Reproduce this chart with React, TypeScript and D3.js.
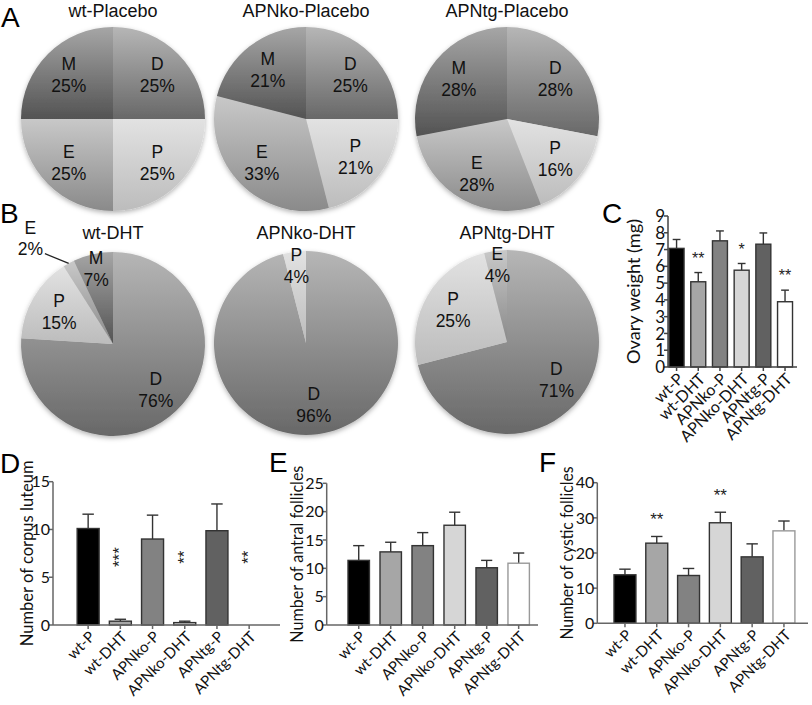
import React from "react";
import * as d3 from "d3";

// ---------- DATA ----------
const stages = ["D", "P", "E", "M"];
const placeboTitles = ["wt-Placebo", "APNko-Placebo", "APNtg-Placebo"];
const placeboPct = [
  [25, 25, 25, 25],
  [25, 21, 33, 21],
  [28, 16, 28, 28],
];
const dhtTitles = ["wt-DHT", "APNko-DHT", "APNtg-DHT"];
const dhtPct = [
  [76, 15, 2, 7],
  [96, 4, 0, 0],
  [71, 25, 4, 0],
];

const groups = ["wt-P", "wt-DHT", "APNko-P", "APNko-DHT", "APNtg-P", "APNtg-DHT"];
const barFills = ["#000000", "#a6a6a6", "#828282", "#d6d6d6", "#616161", "#ffffff"];

const ovaryMean = [7.07, 5.08, 7.52, 5.77, 7.32, 3.89];
const ovarySem = [0.53, 0.55, 0.59, 0.4, 0.67, 0.69];
const ovaryStars = ["", "**", "", "*", "", "**"];
const ovaryTicks = [0, 1, 2, 3, 4, 5, 6, 7, 8, 9];

const corpusMean = [10.1, 0.4, 9.0, 0.25, 9.87, 0];
const corpusSem = [1.5, 0.2, 2.5, 0.15, 2.8, 0];
const corpusStars = ["", "***", "", "**", "", "**"];
const corpusTicks = [0, 5, 10, 15];

const antralMean = [11.4, 12.9, 14.0, 17.6, 10.1, 10.9];
const antralSem = [2.6, 1.7, 2.3, 2.3, 1.3, 1.8];
const antralStars = ["", "", "", "", "", ""];
const antralTicks = [0, 5, 10, 15, 20, 25];

const cysticMean = [13.8, 22.8, 13.6, 28.6, 18.9, 26.3];
const cysticSem = [1.6, 1.9, 2.0, 3.0, 3.7, 2.8];
const cysticStars = ["", "**", "", "**", "", ""];
const cysticTicks = [0, 10, 20, 30, 40];

// ---------- STYLE ----------
const gradStops: Record<string, [string, string]> = {
  D: ["#b6b6b6", "#686868"],
  M: ["#a6a6a6", "#535353"],
  E: ["#c8c8c8", "#8a8a8a"],
  P: ["#e2e2e2", "#bcbcbc"],
};
const SANS = "'Liberation Sans', Arial, sans-serif";
const CAL = "Lato, 'Open Sans', sans-serif";

type PieProps = { cx: number; cy: number; r: number; title: string; titleY: number; pct: number[] };

function PieChart({ cx, cy, r, title, titleY, pct }: PieProps) {
  const pie = d3.pie<number>().sort(null).value((d) => d);
  const arcs = pie(pct);
  const arc = d3.arc<d3.PieArcDatum<number>>().innerRadius(0).outerRadius(r);
  const total = d3.sum(pct);
  const fs = 17.5;
  return (
    <g>
      <text x={cx} y={titleY} textAnchor="middle" fontFamily={SANS} fontSize={18} fill="#111">
        {title}
      </text>
      <g transform={`translate(${cx},${cy})`} filter="url(#pieShadow)">
        {arcs.map((a, i) =>
          a.value > 0 ? <path key={i} d={arc(a) || ""} fill={`url(#grad-${stages[i]})`} /> : null
        )}
      </g>
      <g transform={`translate(${cx},${cy})`}>
        {arcs.map((a, i) => {
          if (a.value <= 0) return null;
          const frac = a.value / total;
          const mid = (a.startAngle + a.endAngle) / 2;
          if (frac < 0.03) {
            const la = (322 * Math.PI) / 180;
            const sa = (323 * Math.PI) / 180;
            const lx = 1.46 * r * Math.sin(la);
            const ly = -1.46 * r * Math.cos(la);
            return (
              <g key={i}>
                <line
                  x1={r * Math.sin(mid)}
                  y1={-r * Math.cos(mid)}
                  x2={1.23 * r * Math.sin(sa)}
                  y2={-1.23 * r * Math.cos(sa)}
                  stroke="#222"
                  strokeWidth={1.2}
                />
                <text x={lx} y={ly - 10.5} textAnchor="middle" dominantBaseline="central" fontFamily={SANS} fontSize={fs} fill="#111">
                  {stages[i]}
                </text>
                <text x={lx} y={ly + 10.5} textAnchor="middle" dominantBaseline="central" fontFamily={SANS} fontSize={fs} fill="#111">
                  {a.value}%
                </text>
              </g>
            );
          }
          const lr = frac < 0.1 ? 0.84 * r : 0.68 * r;
          const lx = lr * Math.sin(mid);
          const ly = -lr * Math.cos(mid);
          return (
            <g key={i}>
              <text x={lx} y={ly - 11} textAnchor="middle" dominantBaseline="central" fontFamily={SANS} fontSize={fs} fill="#111">
                {stages[i]}
              </text>
              <text x={lx} y={ly + 11} textAnchor="middle" dominantBaseline="central" fontFamily={SANS} fontSize={fs} fill="#111">
                {a.value}%
              </text>
            </g>
          );
        })}
      </g>
    </g>
  );
}

type BarProps = {
  x0: number;
  axisEnd: number;
  padInner: number;
  padOuter: number;
  bandEnd: number;
  yBottom: number;
  yTop: number;
  yMax: number;
  ticks: number[];
  means: number[];
  sems: number[];
  stars: string[];
  starMode: "above" | "vertical";
  starGap: number;
  starSize: number;
  yLabel: string;
  yLabelX: number;
  yLabelLen: number;
  yLabelFont: number;
  tickFont: number;
  tickFamily: string;
  xFont: number;
  axisColor: string;
  whiteStroke: string;
  labelFamily: string;
};

function BarPanel(p: BarProps) {
  const x = d3.scaleBand<string>().domain(groups).range([p.x0, p.bandEnd]).paddingInner(p.padInner).paddingOuter(p.padOuter);
  const y = d3.scaleLinear().domain([0, p.yMax]).range([p.yBottom, p.yTop]);
  const bw = x.bandwidth();
  const midY = (p.yBottom + p.yTop) / 2;
  return (
    <g>
      {groups.map((g, i) => {
        const bx = x(g)!;
        const top = y(p.means[i]);
        const errTop = y(p.means[i] + p.sems[i]);
        const cx = bx + bw / 2;
        return (
          <g key={g}>
            {p.sems[i] > 0 && (
              <g stroke="#333" strokeWidth={1.4}>
                <line x1={cx} x2={cx} y1={top} y2={errTop} />
                <line x1={cx - bw * 0.26} x2={cx + bw * 0.26} y1={errTop} y2={errTop} />
              </g>
            )}
            {p.means[i] > 0 && (
              <rect
                x={bx}
                y={top}
                width={bw}
                height={p.yBottom - top}
                fill={barFills[i]}
                stroke={barFills[i] === "#ffffff" ? p.whiteStroke : "#333"}
                strokeWidth={1.4}
              />
            )}
          </g>
        );
      })}
      {groups.map((g, i) => {
        if (!p.stars[i]) return null;
        const cx = x(g)! + bw / 2;
        if (p.starMode === "above") {
          const sy = y(p.means[i] + p.sems[i]) - p.starGap;
          return (
            <text key={g} x={cx} y={sy + p.starSize * 0.57} textAnchor="middle" fontFamily={SANS} fontSize={p.starSize} fill="#222">
              {p.stars[i]}
            </text>
          );
        }
        const sy = y(7.1);
        return (
          <text
            key={g}
            transform={`translate(${cx + p.starSize * 0.3},${sy}) rotate(-90)`}
            textAnchor="middle"
            fontFamily={SANS}
            fontSize={p.starSize}
            fill="#222"
          >
            {p.stars[i]}
          </text>
        );
      })}
      <line x1={p.x0} x2={p.axisEnd} y1={p.yBottom} y2={p.yBottom} stroke={p.axisColor} strokeWidth={1.5} />
      <line x1={p.x0} x2={p.x0} y1={p.yBottom} y2={p.yTop} stroke={p.axisColor} strokeWidth={1.5} />
      {p.ticks.map((t) => (
        <g key={t}>
          <line x1={p.x0 - 4} x2={p.x0} y1={y(t)} y2={y(t)} stroke={p.axisColor} strokeWidth={1.5} />
          <text x={p.x0 - 3} y={y(t)} dy="0.36em" textAnchor="end" fontFamily={p.tickFamily} fontSize={p.tickFont} fill="#111">
            {t}
          </text>
        </g>
      ))}
      {groups.map((g) => {
        const cx = x(g)! + bw / 2;
        return (
          <g key={g}>
            <line x1={cx} x2={cx} y1={p.yBottom} y2={p.yBottom + 4} stroke={p.axisColor} strokeWidth={1.5} />
            <text
              transform={`translate(${cx + 4},${p.yBottom + 9}) rotate(-45)`}
              dy="0.35em"
              textAnchor="end"
              fontFamily={p.labelFamily}
              fontSize={p.xFont}
              fill="#111"
            >
              {g}
            </text>
          </g>
        );
      })}
      <text
        transform={`translate(${p.yLabelX},${midY}) rotate(-90)`}
        textAnchor="middle"
        dy="0.35em"
        fontFamily={p.labelFamily}
        fontSize={p.yLabelFont}
        textLength={p.yLabelLen}
        lengthAdjust="spacingAndGlyphs"
        fill="#111"
      >
        {p.yLabel}
      </text>
    </g>
  );
}

export default function App() {
  const W = 812;
  const H = 705;
  const R = 92;
  const pieXs = [113, 306, 507];
  return (
    <svg width={W} height={H} style={{ position: "absolute", left: 0, top: 0, background: "#fff" }}>
      <defs>
        {stages.map((s) => (
          <linearGradient key={s} id={`grad-${s}`} x1="0" y1="0" x2="0" y2="1">
            <stop offset="0%" stopColor={gradStops[s][0]} />
            <stop offset="100%" stopColor={gradStops[s][1]} />
          </linearGradient>
        ))}
        <filter id="pieShadow" x="-20%" y="-20%" width="140%" height="140%">
          <feDropShadow dx="0" dy="2" stdDeviation="2.5" floodColor="#000" floodOpacity="0.3" />
        </filter>
      </defs>
      <rect width={W} height={H} fill="#fff" />

      <text x={1} y={27} fontFamily={SANS} fontSize={28} fill="#000">A</text>
      <text x={0} y={223} fontFamily={SANS} fontSize={28} fill="#000">B</text>
      <text x={602} y={223} fontFamily={SANS} fontSize={28} fill="#000">C</text>
      <text x={0} y={473} fontFamily={SANS} fontSize={28} fill="#000">D</text>
      <text x={269} y={472} fontFamily={SANS} fontSize={28} fill="#000">E</text>
      <text x={539} y={472} fontFamily={SANS} fontSize={28} fill="#000">F</text>

      {placeboTitles.map((t, i) => (
        <PieChart key={t} cx={pieXs[i]} cy={119} r={R} title={t} titleY={17} pct={placeboPct[i]} />
      ))}
      {dhtTitles.map((t, i) => (
        <PieChart key={t} cx={pieXs[i]} cy={344 - i * 1} r={R} title={t} titleY={239} pct={dhtPct[i]} />
      ))}

      <BarPanel
        x0={668}
        axisEnd={797}
        padInner={0.31}
        padOuter={0.05}
        bandEnd={793.6}
        yBottom={367}
        yTop={216}
        yMax={9}
        ticks={ovaryTicks}
        means={ovaryMean}
        sems={ovarySem}
        stars={ovaryStars}
        starMode="above"
        starGap={18}
        starSize={16}
        yLabel="Ovary weight (mg)"
        yLabelX={634}
        yLabelLen={145}
        yLabelFont={17}
        tickFont={17}
        tickFamily={CAL}
        xFont={16}
        axisColor="#444"
        whiteStroke="#333"
        labelFamily={CAL}
      />
      <BarPanel
        x0={53}
        axisEnd={280}
        padInner={0.317}
        padOuter={0.75}
        bandEnd={284.3}
        yBottom={625}
        yTop={481.7}
        yMax={15}
        ticks={corpusTicks}
        means={corpusMean}
        sems={corpusSem}
        stars={corpusStars}
        starMode="vertical"
        starGap={0}
        starSize={17}
        yLabel="Number of corpus luteum"
        yLabelX={27}
        yLabelLen={186}
        yLabelFont={17}
        tickFont={16}
        tickFamily={CAL}
        xFont={15}
        axisColor="#666"
        whiteStroke="#333"
        labelFamily={CAL}
      />
      <BarPanel
        x0={326.7}
        axisEnd={538}
        padInner={0.33}
        padOuter={0.666}
        bandEnd={550.7}
        yBottom={625}
        yTop={483.3}
        yMax={25}
        ticks={antralTicks}
        means={antralMean}
        sems={antralSem}
        stars={antralStars}
        starMode="above"
        starGap={20}
        starSize={17}
        yLabel="Number of antral follicles"
        yLabelX={297}
        yLabelLen={177}
        yLabelFont={17}
        tickFont={16}
        tickFamily={CAL}
        xFont={15}
        axisColor="#666"
        whiteStroke="#999"
        labelFamily={CAL}
      />
      <BarPanel
        x0={597.3}
        axisEnd={808}
        padInner={0.31}
        padOuter={0.525}
        bandEnd={811.6}
        yBottom={623.3}
        yTop={482.7}
        yMax={40}
        ticks={cysticTicks}
        means={cysticMean}
        sems={cysticSem}
        stars={cysticStars}
        starMode="above"
        starGap={21}
        starSize={17}
        yLabel="Number of cystic follicles"
        yLabelX={567}
        yLabelLen={173}
        yLabelFont={17}
        tickFont={16}
        tickFamily={CAL}
        xFont={15}
        axisColor="#666"
        whiteStroke="#999"
        labelFamily={CAL}
      />
    </svg>
  );
}
